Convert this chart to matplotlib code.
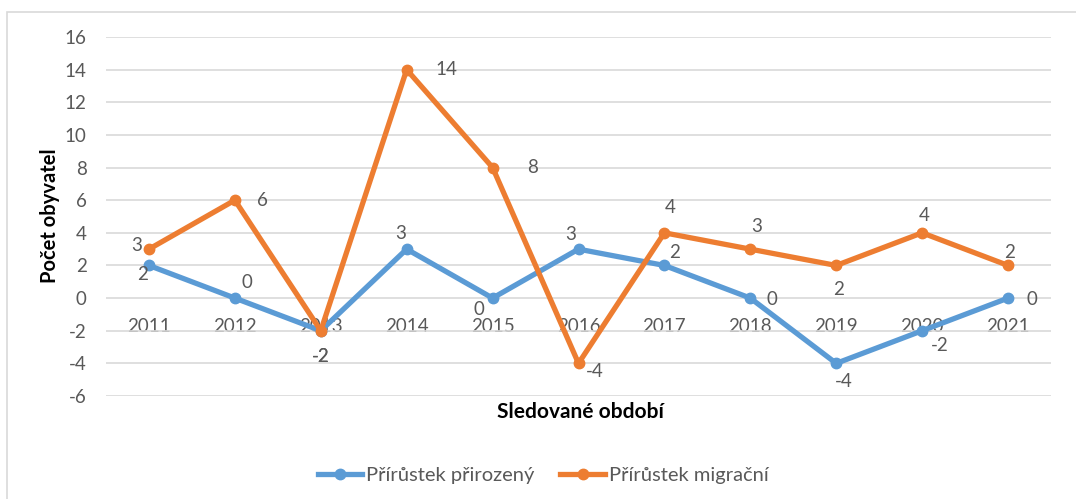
import matplotlib
matplotlib.use("Agg")
import matplotlib.pyplot as plt
from matplotlib.patches import Rectangle

years = ["2011", "2012", "2013", "2014", "2015", "2016", "2017", "2018", "2019", "2020", "2021"]
prirozeny = [2, 0, -2, 3, 0, 3, 2, 0, -4, -2, 0]
migracni = [3, 6, -2, 14, 8, -4, 4, 3, 2, 4, 2]
y_ticks = [-6, -4, -2, 0, 2, 4, 6, 8, 10, 12, 14, 16]

# data label offsets in pixels (dx, dy), Excel-like placement
off_prir = [(-6, -9), (12, 16), (0, -26), (-6, 16), (-14, -11), (-8, 15),
            (10, 13), (22, -1), (8, -18), (18, -15), (24, -1)]
off_migr = [(-12, 4), (28, 0), (0, -26), (40, 0), (40, 0), (16, -8),
            (6, 25), (6, 23), (2, -24), (2, 17), (2, 13)]

BLUE = "#5B9BD5"
ORANGE = "#ED7D31"
GRAY = "#595959"
FONT = ["Lato", "DejaVu Sans"]

plt.rcParams["font.family"] = FONT
plt.rcParams["axes.unicode_minus"] = False

fig = plt.figure(figsize=(10.76, 4.99), dpi=100)
fig.patches.append(Rectangle((7 / 1076, -0.1), 1.2, 1 - 12 / 499 + 0.1,
                             transform=fig.transFigure, fill=False,
                             edgecolor="#D9D9D9", linewidth=1.2))

ax = fig.add_axes([106 / 1076, 1 - 396 / 499, (1051 - 106) / 1076, (396 - 37) / 499])
x = list(range(len(years)))

ax.plot(x, prirozeny, color=BLUE, lw=3.8, marker="o", ms=7.5,
        label="Přírůstek přirozený", solid_joinstyle="round", zorder=3)
ax.plot(x, migracni, color=ORANGE, lw=3.8, marker="o", ms=7.5,
        label="Přírůstek migrační", solid_joinstyle="round", zorder=3)

for xi, v, o in zip(x, prirozeny, off_prir):
    ax.annotate(str(v), (xi, v), xytext=o, textcoords="offset pixels",
                ha="center", va="center", fontsize=13.5, color=GRAY, zorder=4)
for xi, v, o in zip(x, migracni, off_migr):
    ax.annotate(str(v), (xi, v), xytext=o, textcoords="offset pixels",
                ha="center", va="center", fontsize=13.5, color=GRAY, zorder=4)

ax.set_xlim(-0.5, len(years) - 0.5)
ax.set_ylim(-6, 16)
ax.set_yticks(y_ticks)
ax.set_xticks(x)
ax.set_xticklabels(years)
ax.grid(axis="y", color="#D9D9D9", lw=1.2)
ax.set_axisbelow(True)

for s in ["left", "right", "top"]:
    ax.spines[s].set_visible(False)
ax.spines["bottom"].set_position(("data", 0))
ax.spines["bottom"].set_visible(False)
ax.tick_params(axis="x", length=0, pad=14, labelsize=13.5, labelcolor=GRAY)
ax.tick_params(axis="y", length=0, pad=14, labelsize=13.5, labelcolor=GRAY)

fig.text(50 / 1076, 1 - 216 / 499, "Počet obyvatel", rotation=90, ha="center",
         va="center", fontsize=14.5, fontweight="bold", color="black")
fig.text(580 / 1076, 1 - 412 / 499, "Sledované období", ha="center",
         va="center", fontsize=15, fontweight="bold", color="black")

fig.legend(loc="center", bbox_to_anchor=(543 / 1076, 1 - 475 / 499), ncol=2,
           frameon=False, fontsize=14.5, labelcolor=GRAY, handlelength=2.2,
           handletextpad=0.2, columnspacing=1.3)

fig.savefig("out.png", dpi=100)
